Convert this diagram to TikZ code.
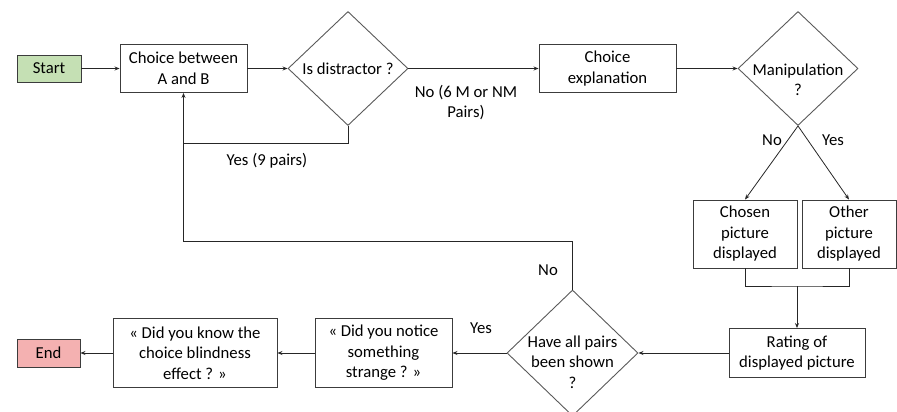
\documentclass[tikz,border=0pt]{standalone}
\usepackage{fontspec}
\setmainfont{Carlito}
\usetikzlibrary{arrows.meta,shapes.geometric}
\definecolor{startfill}{RGB}{197,224,180}
\definecolor{endfill}{RGB}{244,177,177}
\definecolor{linec}{RGB}{60,60,60}
\begin{document}
\begin{tikzpicture}[x=1pt,y=-1pt, font=\fontsize{16.7}{20.5}\selectfont,
 box/.style={draw=linec, line width=0.9pt, align=center, inner sep=0pt},
 dia/.style={draw=linec!85, line width=0.9pt, shape=diamond, inner sep=0pt},
 txt/.style={align=center, inner sep=0pt},
 conn/.style={draw=black!85, line width=0.8pt},
 arr/.style={conn, -{Stealth[length=5pt,width=4pt]}}]
\useasboundingbox (0,0) rectangle (897,412);

\node[box, fill=startfill, minimum width=64pt, minimum height=27pt] (start) at (49,68.5) {Start};
\node[box, minimum width=127pt, minimum height=48pt] (choice) at (183.5,68.5) {Choice between\\A and B};
\node[dia, minimum width=120pt, minimum height=114pt] (d1) at (348,68.5) {};
\node[txt] (d1t) at (348,69) {Is distractor ?};
\node[box, minimum width=137pt, minimum height=48pt] (expl) at (607.5,68.5) {Choice\\explanation};
\node[dia, minimum width=120pt, minimum height=114pt] (d2) at (798,68.5) {};
\node[txt] (d2t) at (798,80) {Manipulation\\?};
\node[box, minimum width=104pt, minimum height=68pt] (chosen) at (745,234) {Chosen\\picture\\displayed};
\node[box, minimum width=94pt, minimum height=68pt] (other) at (849,234) {Other\\picture\\displayed};
\node[box, minimum width=136pt, minimum height=49pt] (rating) at (797,353) {Rating of\\displayed picture};
\node[dia, minimum width=131pt, minimum height=126pt] (d3) at (572.5,353) {};
\node[txt] (d3t) at (572.5,362) {Have all pairs\\been shown\\?};
\node[box, minimum width=137pt, minimum height=69pt] (notice) at (383.5,353) {« Did you notice\\something\\strange ? »};
\node[box, minimum width=164pt, minimum height=69pt] (know) at (195,353) {« Did you know the\\choice blindness\\effect ? »};
\node[box, fill=endfill, minimum width=63pt, minimum height=28pt] (end) at (48.5,353) {End};

\draw[arr] (start.east) -- (choice.west);
\draw[arr] (choice.east) -- (d1.west);
\draw[arr] (d1.east) -- (expl.west);
\draw[arr] (expl.east) -- (d2.west);
\draw[arr] (d2.south) -- (chosen.north);
\draw[arr] (d2.south) -- (other.north);
\coordinate (merge) at (797,286);
\draw[conn] (chosen.south) |- (merge) -| (other.south);
\draw[arr] (merge) -- (rating.north);
\draw[arr] (rating.west) -- (d3.east);
\draw[arr] (d3.west) -- (notice.east);
\draw[arr] (notice.west) -- (know.east);
\draw[arr] (know.west) -- (end.east);
\coordinate (noturn) at (183.5,241);
\draw[arr] (d3.north) |- (noturn) -- (choice.south);
\coordinate (yesturn) at (183.5,143);
\draw[conn] (d1.south) |- (yesturn);

\node[txt] (lno1) at (466,102.5) {No (6 M or NM\\Pairs)};
\node[txt] (lyes1) at (267,161) {Yes (9 pairs)};
\node[txt] (lno2) at (772,140) {No};
\node[txt] (lyes2) at (833,140) {Yes};
\node[txt] (lno3) at (548,270) {No};
\node[txt] (lyes3) at (481,328) {Yes};
\end{tikzpicture}
\end{document}
